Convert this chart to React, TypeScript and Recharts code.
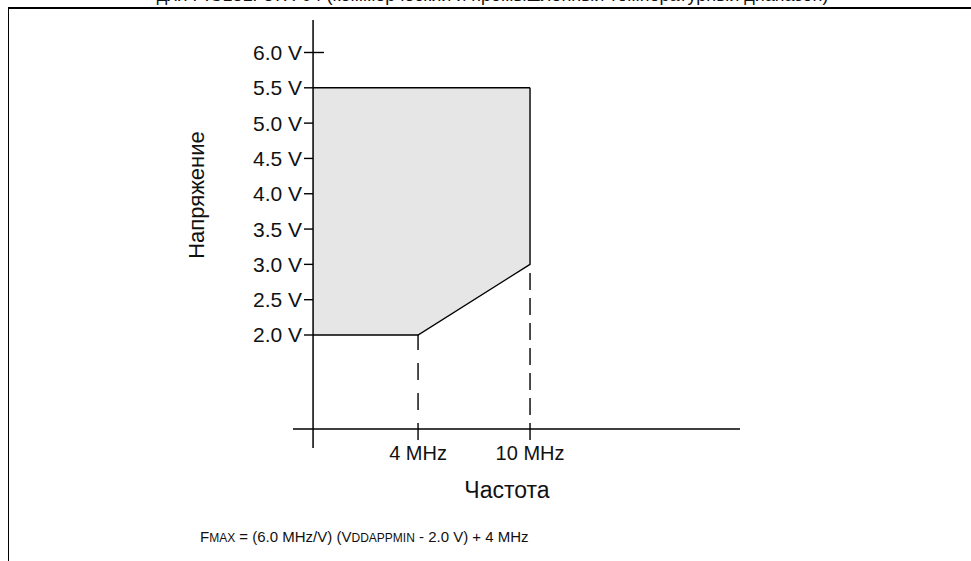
import React from 'react';
import { ComposedChart, Area, Line, XAxis, YAxis, ReferenceLine, Label } from 'recharts';

// operating region: frequency (MHz) vs supply voltage (V)
const freqMHz = [-1.625, 4, 10];
const vddMin = [2.0, 2.0, 3.0];
const vddMax = [5.5, 5.5, 5.5];

const voltTicks = [2.0, 2.5, 3.0, 3.5, 4.0, 4.5, 5.0, 5.5, 6.0];
const freqTicks = [4, 10];
const freqTickLabels = ['4 MHz', '10 MHz'];

// where the drawn axes cross (in data units)
const AXIS_FREQ = -1.625;
const AXIS_VOLT = 0.668;
const DASH_BOTTOM = 0.513;

const title = 'для PIC18LF87X-04 (коммерческий и промышленный температурный диапазон)';

const data = freqMHz.map((f, i) => ({
  f,
  min: vddMin[i],
  max: vddMax[i],
  range: [vddMin[i], vddMax[i]],
}));

const FONT = '"Liberation Sans", Arial, sans-serif';

const VoltTick = (props: any) => {
  const { x, y, payload } = props;
  const isTop = payload.value === 6.0;
  return (
    <g>
      <line x1={x + 11} x2={isTop ? x + 31 : x + 20} y1={y} y2={y} stroke="#000" strokeWidth={1.4} />
      <text x={x + 9} y={y} dy="0.355em" textAnchor="end" fontSize={21} fill="#111">
        {`${payload.value.toFixed(1)} V`}
      </text>
    </g>
  );
};

const FreqTick = (props: any) => {
  const { x, y, payload } = props;
  const idx = freqTicks.indexOf(payload.value);
  return (
    <text x={x} y={y + 12} textAnchor="middle" fontSize={20} fill="#111">
      {freqTickLabels[idx]}
    </text>
  );
};

export default function App() {
  return (
    <div
      style={{
        position: 'absolute',
        left: 0,
        top: 0,
        width: 971,
        height: 561,
        overflow: 'hidden',
        background: '#fff',
        fontFamily: FONT,
      }}
    >
      <div
        style={{
          position: 'absolute',
          left: 0,
          width: 985,
          top: -16,
          textAlign: 'center',
          fontSize: 18,
          lineHeight: '22px',
          color: '#111',
          whiteSpace: 'nowrap',
        }}
      >
        {title}
      </div>
      <div
        style={{
          position: 'absolute',
          left: 8,
          top: 7,
          width: 980,
          height: 600,
          borderLeft: '1.5px solid #000',
          borderTop: '2px solid #000',
        }}
      />
      <div style={{ position: 'absolute', left: 0, top: 0 }}>
        <ComposedChart width={971} height={561} data={data} margin={{ top: 20, right: 231, left: 0, bottom: 0 }}>
          <XAxis
            dataKey="f"
            type="number"
            domain={[-2.7, 21.25]}
            allowDataOverflow
            ticks={freqTicks}
            axisLine={false}
            tickLine={false}
            tickSize={0}
            tickMargin={0}
            height={113}
            tick={<FreqTick />}
          >
            <Label
              content={() => (
                <text x={507} y={490} dy="0.355em" textAnchor="middle" fontSize={23} fill="#111">
                  Частота
                </text>
              )}
            />
          </XAxis>
          <YAxis
            type="number"
            domain={[0.4, 6.46]}
            allowDataOverflow
            ticks={voltTicks}
            axisLine={false}
            tickLine={false}
            tickSize={0}
            tickMargin={0}
            width={293}
            tick={<VoltTick />}
          >
            <Label
              content={() => (
                <text
                  x={196}
                  y={195}
                  transform="rotate(-90 196 195)"
                  textAnchor="middle"
                  dominantBaseline="central"
                  fontSize={22}
                  fill="#111"
                >
                  Напряжение
                </text>
              )}
            />
          </YAxis>
          <Area
            type="linear"
            dataKey="range"
            fill="#e6e6e6"
            fillOpacity={1}
            stroke="none"
            isAnimationActive={false}
          />
          <Line type="linear" dataKey="min" stroke="#000" strokeWidth={1.4} dot={false} isAnimationActive={false} />
          <Line type="linear" dataKey="max" stroke="#000" strokeWidth={1.4} dot={false} isAnimationActive={false} />
          <ReferenceLine
            segment={[{ x: 10, y: 3.0 }, { x: 10, y: 5.5 }]}
            stroke="#000"
            strokeWidth={1.4}
          />
          <ReferenceLine
            segment={[{ x: 4, y: DASH_BOTTOM }, { x: 4, y: 2.0 }]}
            stroke="#000"
            strokeWidth={1.4}
            strokeDasharray="17 13"
          />
          <ReferenceLine
            segment={[{ x: 10, y: DASH_BOTTOM }, { x: 10, y: 3.0 }]}
            stroke="#000"
            strokeWidth={1.4}
            strokeDasharray="17 8"
          />
          <ReferenceLine x={AXIS_FREQ} stroke="#000" strokeWidth={1.5} />
          <ReferenceLine y={AXIS_VOLT} stroke="#000" strokeWidth={1.5} />
        </ComposedChart>
      </div>
      <div
        style={{
          position: 'absolute',
          left: 200,
          top: 527,
          fontSize: 15,
          lineHeight: '20px',
          color: '#111',
          whiteSpace: 'nowrap',
        }}
      >
        F<span style={{ fontSize: 12 }}>MAX</span> = (6.0 MHz/V) (V<span style={{ fontSize: 12 }}>DDAPPMIN</span> - 2.0 V) + 4 MHz
      </div>
    </div>
  );
}
